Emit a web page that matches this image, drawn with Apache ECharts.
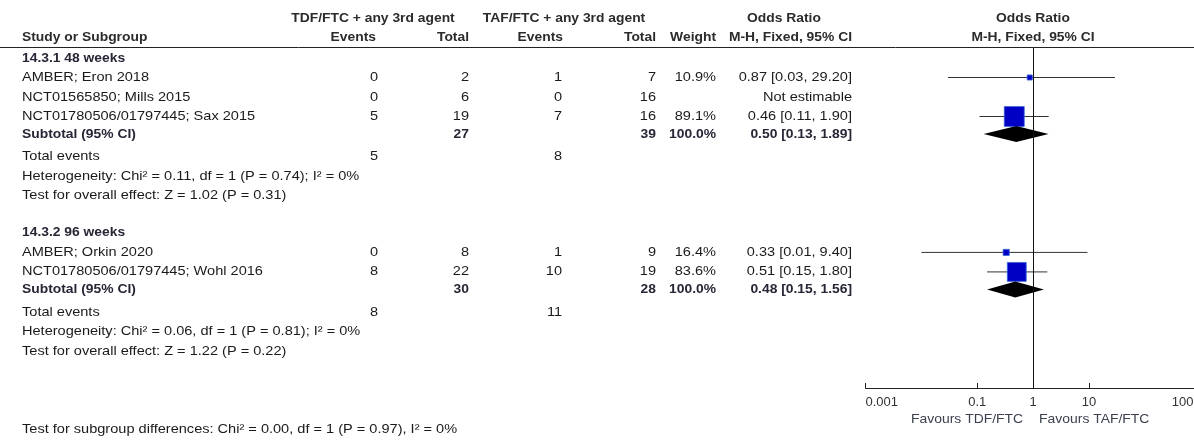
<!DOCTYPE html>
<html>
<head>
<meta charset="utf-8">
<title>Odds ratio forest plot</title>
<script src="https://cdn.jsdelivr.net/npm/echarts@6/dist/echarts.min.js"></script>
<style>
  html, body { margin: 0; padding: 0; background: #ffffff; }
  #chart { width: 1194px; height: 440px; }
</style>
</head>
<body>
<div id="chart"></div>
<script>
// ---- Study-level data ----
const studyNames  = ['AMBER; Eron 2018', 'NCT01565850; Mills 2015', 'NCT01780506/01797445; Sax 2015',
                     'AMBER; Orkin 2020', 'NCT01780506/01797445; Wohl 2016'];
const studyGroup  = [0, 0, 0, 1, 1];
const tdfEvents   = [0, 0, 5, 0, 8];
const tdfTotal    = [2, 6, 19, 8, 22];
const tafEvents   = [1, 0, 7, 1, 10];
const tafTotal    = [7, 16, 16, 9, 19];
const weights     = [10.9, null, 89.1, 16.4, 83.6];
const oddsRatio   = [0.87, null, 0.46, 0.33, 0.51];
const ciLower     = [0.03, null, 0.11, 0.01, 0.15];
const ciUpper     = [29.20, null, 1.90, 9.40, 1.80];

// ---- Subgroup-level data ----
const groupNames     = ['14.3.1 48 weeks', '14.3.2 96 weeks'];
const subTdfTotal    = [27, 30];
const subTafTotal    = [39, 28];
const subTdfEvents   = [5, 8];
const subTafEvents   = [8, 11];
const subOddsRatio   = [0.50, 0.48];
const subLower       = [0.13, 0.15];
const subUpper       = [1.89, 1.56];
const heterogeneity  = ['Heterogeneity: Chi\u00b2 = 0.11, df = 1 (P = 0.74); I\u00b2 = 0%',
                        'Heterogeneity: Chi\u00b2 = 0.06, df = 1 (P = 0.81); I\u00b2 = 0%'];
const overallEffect  = ['Test for overall effect: Z = 1.02 (P = 0.31)',
                        'Test for overall effect: Z = 1.22 (P = 0.22)'];
const subgroupDiff   = 'Test for subgroup differences: Chi\u00b2 = 0.00, df = 1 (P = 0.97), I\u00b2 = 0%';

// ---- Axis ----
const axisTickValues = [0.001, 0.1, 1, 10, 1000];
const favoursLeft  = 'Favours TDF/FTC';
const favoursRight = 'Favours TAF/FTC';

// ---- Layout ----
const W = 1194, H = 440;
const ROW_H = 19.5;          // px per table row
const ROW0_Y = 58;           // px centre of row 0
const PLOT_TOP = 48, PLOT_BOTTOM = 388;
const PLOT_LEFT = 865.5, PLOT_WIDTH = 335.2;
const FONT = '"Liberation Sans", Arial, sans-serif';
const FS = 13;
const STRETCH_REG = 1.12;    // wide glyph advance of the table font
const STRETCH_BOLD = 1.065;

const pxToRow = px => (px - ROW0_Y) / ROW_H;

// column anchors (right edges unless noted)
const COL = {
  name: 22, tdfEv: 378, tdfTot: 469, tafEv: 562, tafTot: 656, weight: 716, ci: 852,
  tdfHead: 373, tafHead: 564, orHead: 784, plotHead: 1033
};

const fmtCI = (o, l, u) => o.toFixed(2) + ' [' + l.toFixed(2) + ', ' + u.toFixed(2) + ']';

// Build table cells and row positions
const cells = [];
const studyRows = [], subRows = [];
function cell(x, row, text, align, bold, color) {
  cells.push({ x, row, text: String(text), align: align || 'right', bold: !!bold, color: color || '#1a1a1a' });
}
const HEAD = '#2b2b2b';
const SUB = '#262636';
cell(COL.tdfHead, -2.05, 'TDF/FTC + any 3rd agent', 'center', true, HEAD);
cell(COL.tafHead, -2.05, 'TAF/FTC + any 3rd agent', 'center', true, HEAD);
cell(COL.orHead, -2.05, 'Odds Ratio', 'center', true, HEAD);
cell(COL.plotHead, -2.05, 'Odds Ratio', 'center', true, HEAD);
cell(COL.name, -1.03, 'Study or Subgroup', 'left', true, HEAD);
cell(COL.tdfEv - 2, -1.03, 'Events', 'right', true, HEAD);
cell(COL.tdfTot, -1.03, 'Total', 'right', true, HEAD);
cell(COL.tafEv + 1, -1.03, 'Events', 'right', true, HEAD);
cell(COL.tafTot, -1.03, 'Total', 'right', true, HEAD);
cell(COL.weight, -1.03, 'Weight', 'right', true, HEAD);
cell(COL.ci, -1.03, 'M-H, Fixed, 95% CI', 'right', true, HEAD);
cell(COL.plotHead, -1.03, 'M-H, Fixed, 95% CI', 'center', true, HEAD);

let r = 0;
groupNames.forEach((g, gi) => {
  cell(COL.name, r, g, 'left', true, SUB);
  studyNames.forEach((s, si) => {
    if (studyGroup[si] !== gi) return;
    r += 1;
    studyRows[si] = r;
    cell(COL.name, r, s, 'left');
    cell(COL.tdfEv, r, tdfEvents[si]);
    cell(COL.tdfTot, r, tdfTotal[si]);
    cell(COL.tafEv, r, tafEvents[si]);
    cell(COL.tafTot, r, tafTotal[si]);
    if (weights[si] != null) {
      cell(COL.weight, r, weights[si].toFixed(1) + '%');
      cell(COL.ci, r, fmtCI(oddsRatio[si], ciLower[si], ciUpper[si]));
    } else {
      cell(COL.ci, r, 'Not estimable');
    }
  });
  r += 0.9;
  subRows[gi] = r;
  cell(COL.name, r, 'Subtotal (95% CI)', 'left', true, SUB);
  cell(COL.tdfTot, r, subTdfTotal[gi], 'right', true, SUB);
  cell(COL.tafTot, r, subTafTotal[gi], 'right', true, SUB);
  cell(COL.weight, r, '100.0%', 'right', true, SUB);
  cell(COL.ci, r, fmtCI(subOddsRatio[gi], subLower[gi], subUpper[gi]), 'right', true, SUB);
  r += 1.17;
  cell(COL.name, r, 'Total events', 'left');
  cell(COL.tdfEv, r, subTdfEvents[gi]);
  cell(COL.tafEv, r, subTafEvents[gi]);
  r += 1;
  cell(COL.name, r, heterogeneity[gi], 'left');
  r += 1;
  cell(COL.name, r, overallEffect[gi], 'left');
  r += 1.9;
});
cell(COL.name, r + 2.1, subgroupDiff, 'left');

// Favours labels sit either side of the null value
const favRow = pxToRow(419);

// Forest marks
const studyData = [];
oddsRatio.forEach((o, i) => {
  if (o == null) return;
  studyData.push([o, studyRows[i], ciLower[i], ciUpper[i], weights[i]]);
});
const diamondData = subOddsRatio.map((o, i) => [o, subRows[i], subLower[i], subUpper[i]]);

const chart = echarts.init(document.getElementById('chart'), null, { renderer: 'canvas', width: W, height: H });

chart.setOption({
  animation: false,
  backgroundColor: '#ffffff',
  grid: [
    { left: 0, top: 0, width: W, height: H, show: false, containLabel: false, outerBoundsMode: 'none' },
    { left: PLOT_LEFT, top: PLOT_TOP, width: PLOT_WIDTH, height: PLOT_BOTTOM - PLOT_TOP, show: false,
      containLabel: false, outerBoundsMode: 'none' }
  ],
  xAxis: [
    { gridIndex: 0, type: 'value', min: 0, max: W, show: false },
    {
      gridIndex: 1, type: 'log', logBase: 10, min: 0.001, max: 1000, position: 'bottom',
      axisLine: { show: true, onZero: false, lineStyle: { color: '#222', width: 1 } },
      axisTick: { show: true, inside: true, length: 5, lineStyle: { color: '#222' }, customValues: axisTickValues },
      axisLabel: {
        show: true, customValues: axisTickValues, margin: 8, color: '#333', hideOverlap: false,
        alignMinLabel: 'left', alignMaxLabel: 'right',
        fontFamily: FONT, fontSize: FS, formatter: v => String(+Number(v).toPrecision(6))
      },
      splitLine: { show: false }, minorTick: { show: false }
    }
  ],
  yAxis: [
    { gridIndex: 0, type: 'value', inverse: true, min: pxToRow(0), max: pxToRow(H), show: false },
    { gridIndex: 1, type: 'value', inverse: true, min: pxToRow(PLOT_TOP), max: pxToRow(PLOT_BOTTOM), show: false }
  ],
  series: [
    {
      // table text
      type: 'custom', xAxisIndex: 0, yAxisIndex: 0, silent: true,
      data: cells.map(c => [c.x, c.row]),
      renderItem: (params, api) => {
        const c = cells[params.dataIndex];
        const p = api.coord([c.x, c.row]);
        return {
          type: 'text', x: p[0], y: p[1], scaleX: c.bold ? STRETCH_BOLD : STRETCH_REG,
          style: {
            text: c.text, align: c.align, verticalAlign: 'middle',
            fontFamily: FONT, fontSize: FS, fontWeight: c.bold ? 'bold' : 'normal', fill: c.color
          }
        };
      }
    },
    {
      // header rule
      type: 'custom', xAxisIndex: 0, yAxisIndex: 0, silent: true,
      data: [[0, pxToRow(47.5)]],
      renderItem: (params, api) => {
        const a = api.coord([0, api.value(1)]);
        const b = api.coord([W, api.value(1)]);
        return { type: 'line', shape: { x1: a[0], y1: a[1], x2: b[0], y2: b[1] }, style: { stroke: '#222', lineWidth: 1 } };
      }
    },
    {
      // study estimates: CI whisker + weighted square
      type: 'custom', xAxisIndex: 1, yAxisIndex: 1, silent: true, clip: false,
      data: studyData,
      renderItem: (params, api) => {
        const c = api.coord([api.value(0), api.value(1)]);
        const lo = api.coord([api.value(2), api.value(1)]);
        const hi = api.coord([api.value(3), api.value(1)]);
        const s = 3 + 0.19 * api.value(4);
        return {
          type: 'group',
          children: [
            { type: 'line', shape: { x1: lo[0], y1: lo[1], x2: hi[0], y2: hi[1] }, style: { stroke: '#333', lineWidth: 1 } },
            { type: 'rect', shape: { x: c[0] - s / 2, y: c[1] - s / 2, width: s, height: s },
              style: { fill: '#0000c4', stroke: '#3563d8', lineWidth: 0.8 } }
          ]
        };
      },
      markLine: {
        silent: true, symbol: ['none', 'none'], label: { show: false },
        lineStyle: { color: '#111', width: 1, type: 'solid' },
        data: [{ xAxis: 1 }]
      }
    },
    {
      // subgroup pooled estimates as diamonds
      type: 'custom', xAxisIndex: 1, yAxisIndex: 1, silent: true, clip: false,
      data: diamondData,
      renderItem: (params, api) => {
        const y = api.value(1);
        const c = api.coord([api.value(0), y]);
        const lo = api.coord([api.value(2), y]);
        const hi = api.coord([api.value(3), y]);
        const h = 8;
        return {
          type: 'polygon',
          shape: { points: [[lo[0], lo[1]], [c[0], c[1] - h], [hi[0], hi[1]], [c[0], c[1] + h]] },
          style: { fill: '#000' }
        };
      }
    },
    {
      // favours labels around the null value
      type: 'custom', xAxisIndex: 1, yAxisIndex: 1, silent: true, clip: false,
      data: [[1, favRow, 0], [1, favRow, 1]],
      renderItem: (params, api) => {
        const p = api.coord([api.value(0), api.value(1)]);
        const left = api.value(2) === 0;
        return {
          type: 'text', x: p[0] + (left ? -10 : 6), y: p[1], scaleX: 1.07,
          style: {
            text: left ? favoursLeft : favoursRight, align: left ? 'right' : 'left', verticalAlign: 'middle',
            fontFamily: FONT, fontSize: FS, fill: '#3c4150'
          }
        };
      }
    }
  ]
});
</script>
</body>
</html>
